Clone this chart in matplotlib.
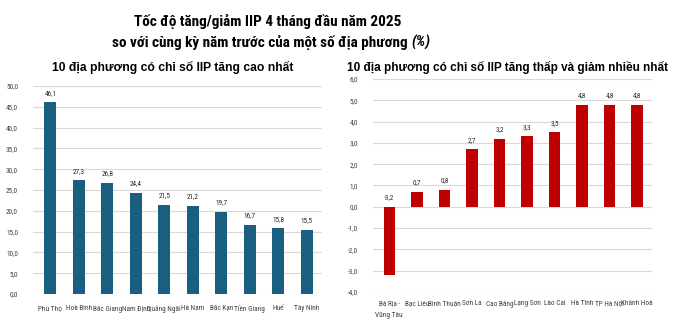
import matplotlib.pyplot as plt
from matplotlib import font_manager
from matplotlib.ticker import FuncFormatter

# data
top_names = ['Phú Thọ', 'Hoà Bình', 'Bắc Giang', 'Nam Định', 'Quảng Ngãi',
             'Hà Nam', 'Bắc Kạn', 'Tiền Giang', 'Huế', 'Tây Ninh']
top_values = [46.1, 27.3, 26.8, 24.4, 21.5, 21.2, 19.7, 16.7, 15.8, 15.5]

low_names = ['Bà Rịa -\nVũng Tàu', 'Bạc Liêu', 'Bình Thuận', 'Sơn La', 'Cao Bằng',
             'Lạng Sơn', 'Lào Cai', 'Hà Tĩnh', 'TP Hà Nội', 'Khánh Hoà']
low_values = [-3.2, 0.7, 0.8, 2.7, 3.2, 3.3, 3.5, 4.8, 4.8, 4.8]

# use a narrow face when one is installed
installed = {f.name for f in font_manager.fontManager.ttflist}
narrow_face = next((n for n in ['Liberation Sans Narrow', 'Arial Narrow', 'Roboto Condensed']
                    if n in installed), None)
if narrow_face:
    small = [narrow_face, 'DejaVu Sans']
    small_size = 5.2
    title_size = 11
else:
    small = ['Liberation Sans', 'DejaVu Sans']
    small_size = 4.8
    title_size = 9.5
plt.rcParams['font.family'] = ['Liberation Sans', 'DejaVu Sans']


def comma(v, pos=None):
    return f'{v:.1f}'.replace('.', ',')


def style_axis(ax, xlim, ylim, step):
    ax.set_xlim(*xlim)
    ax.set_ylim(*ylim)
    n = int(round((ylim[1] - ylim[0]) / step))
    ax.set_yticks([ylim[0] + i * step for i in range(n + 1)])
    ax.yaxis.set_major_formatter(FuncFormatter(comma))
    ax.grid(axis='y', color='#d9d9d9', linewidth=0.8)
    ax.set_axisbelow(True)
    for s in ax.spines.values():
        s.set_visible(False)
    ax.tick_params(length=0, labelsize=small_size, colors='#404040')
    for lab in ax.get_yticklabels() + ax.get_xticklabels():
        lab.set_family(small)


fig = plt.figure(figsize=(6.8, 3.36), dpi=100)

# left chart
ax1 = fig.add_axes([0.049, 0.125, 0.425, 0.619])
x = range(len(top_values))
ax1.bar(x, top_values, width=0.42, color='#1a5f80')
ax1.set_xticks(list(x))
ax1.set_xticklabels(top_names)
style_axis(ax1, (-0.6, 9.55), (0, 50), 5)
ax1.tick_params(axis='x', pad=8)
ax1.tick_params(axis='y', pad=11)
for i, v in enumerate(top_values):
    ax1.annotate(comma(v), (i, v), xytext=(0, 4), textcoords='offset points',
                 ha='center', va='bottom', fontsize=small_size, family=small, color='#262626')

# right chart
ax2 = fig.add_axes([0.549, 0.131, 0.41, 0.634])
x = range(len(low_values))
ax2.bar(x, low_values, width=0.42, color='#c00000')
ax2.set_xticks(list(x))
ax2.set_xticklabels(low_names, linespacing=1.9)
style_axis(ax2, (-0.58, 9.54), (-4, 6), 1)
ax2.tick_params(axis='x', pad=6)
ax2.tick_params(axis='y', pad=11)
for i, v in enumerate(low_values):
    ax2.annotate(comma(v), (i, max(v, 0)), xytext=(0, 4), textcoords='offset points',
                 ha='center', va='bottom', fontsize=small_size, family=small, color='#262626')

# titles
title_font = small if narrow_face else ['Liberation Sans', 'DejaVu Sans']
fig.text(0.393, 0.937, 'Tốc độ tăng/giảm IIP 4 tháng đầu năm 2025', family=title_font,
         ha='center', va='center', fontsize=title_size, fontweight='bold')
line2 = fig.text(0.385, 0.875, 'so với cùng kỳ năm trước của một số địa phương ',
                 family=title_font, ha='center', va='center',
                 fontsize=title_size, fontweight='bold')
fig.canvas.draw()
bb = line2.get_window_extent().transformed(fig.transFigure.inverted())
fig.text(bb.x1, 0.875, '(%)', ha='left', va='center', fontsize=title_size,
         family=title_font, fontweight='bold', style='italic')

fig.text(0.254, 0.80, '10 địa phương có chỉ số IIP tăng cao nhất',
         ha='center', va='center', fontsize=8.7, fontweight='bold')
fig.text(0.747, 0.80, '10 địa phương có chỉ số IIP tăng thấp và giảm nhiều nhất',
         ha='center', va='center', fontsize=8.5, fontweight='bold')

fig.savefig('out.png', dpi=100)
